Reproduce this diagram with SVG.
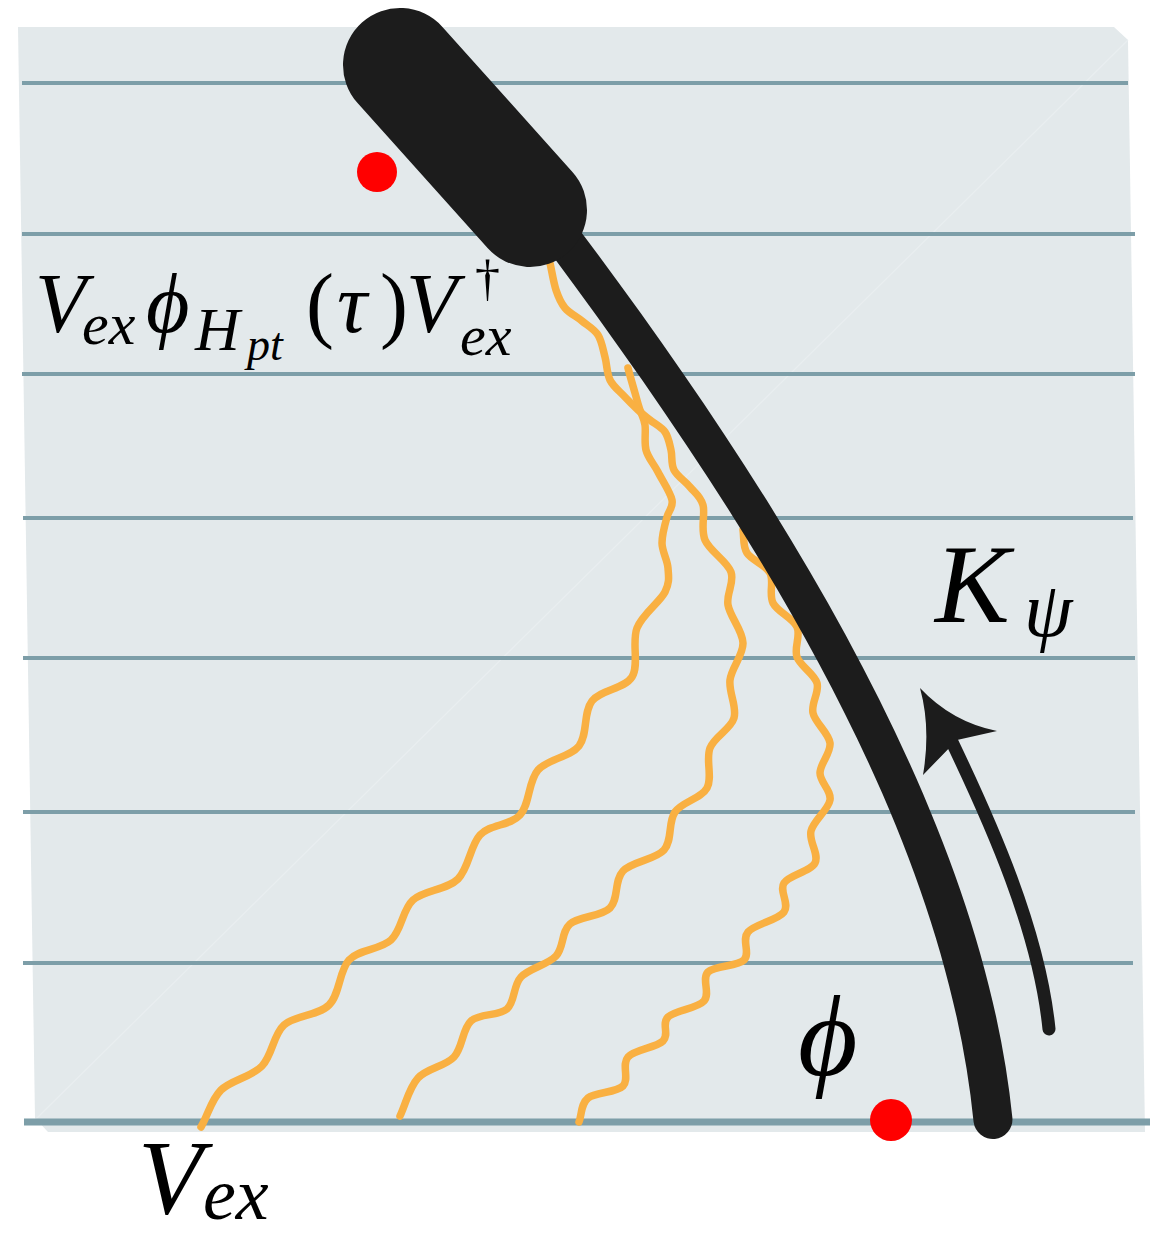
<svg xmlns="http://www.w3.org/2000/svg" width="1163" height="1235" viewBox="0 0 1163 1235">
<style>
.rule{stroke:#7d9ea8;stroke-width:4;fill:none}
.wave{stroke:#f9b042;stroke-width:7.5;fill:none;stroke-linecap:round;stroke-linejoin:round}
.ink{fill:#1c1c1c}
.dot{fill:#ff0000}
.math{font-family:"Liberation Serif","DejaVu Serif",serif;font-style:italic;fill:#000}
.up{font-style:normal}
</style>
<rect width="1163" height="1235" fill="#ffffff"/>
<g id="sheet">
<polygon points="18,27 1114,27 1128,40 1145,1132 48,1132 35,1118" fill="#e3e9eb"/>
<line x1="35" y1="1120" x2="1128" y2="40" stroke="#e9eef0" stroke-width="1.2"/>
</g>
<g id="rules">
<line class="rule" x1="22" y1="83" x2="1128" y2="83"/>
<line class="rule" x1="22" y1="234" x2="1135" y2="234"/>
<line class="rule" x1="22" y1="374" x2="1135" y2="374"/>
<line class="rule" x1="23" y1="518" x2="1133" y2="518"/>
<line class="rule" x1="23" y1="658" x2="1135" y2="658"/>
<line class="rule" x1="23" y1="812" x2="1135" y2="812"/>
<line class="rule" x1="23" y1="963" x2="1133" y2="963"/>
<line class="rule" x1="24" y1="1122" x2="1150" y2="1122" style="stroke-width:7"/>
</g>
<g id="connectors">
<path id="wave-1" class="wave" d="M201,1127 C208,1115 211,1100 221,1090 C231,1080 251.5,1077 262,1066 C272.5,1055 273,1035 284,1025 C295,1015 318,1016 329,1005 C340,994 339,971 349,960 C359,949 380,950 391,940 C402,930 402,910 413,900 C424,890 447,890 458,879 C469,868 470,846 480,835 C490,824 510,826 520,815 C530,804 528,781.5 538,770 C548,758.5 570,757.5 579,746 C588,734.5 583,712.5 592,701 C601,689.5 624.5,689 632,677 C639.5,665 631.5,642 637,628 C642.5,614 660,602 665,592 C670,582 668.5,576 668,568 C667.5,560 662,551.5 662,543 C662,534.5 665,524 667,517 C668.7,510 673.5,507.5 672,500 C670.5,492.5 662,480 658,472 C653.7,463.7 648,458 646,450 C644,442 646,432 645,425 C644,418 641.7,415 640,410 C638,404.7 637,400 635,393 C633,386 630,376 628,368"/>
<path id="wave-2" class="wave" d="M400,1116 C406,1103.3 409,1087.8 418,1078 C427,1068.2 445.2,1066.5 454,1057 C462.8,1047.5 462.2,1029 471,1021 C479.8,1013 498.7,1016.3 507,1009 C515.3,1001.7 512.8,985.8 521,977 C529.2,968.2 547.8,964.8 556,956 C564.2,947.2 561,932 570,924 C579,916 601.2,916.8 610,908 C618.8,899.2 614,880.7 623,871 C632,861.3 655.3,859.8 664,850 C672.7,840.2 667.8,822.3 675,812 C682.2,801.7 701.2,798.7 707,788 C712.8,777.3 705.5,759.7 710,748 C714.5,736.3 730.7,729.3 734,718 C737.3,706.7 728.5,692.5 730,680 C731.5,667.5 743.3,655.5 743,643 C742.7,630.5 730,616.8 728,605 C726,593.2 734.8,582.8 731,572 C727.2,561.2 709.7,551.2 705,540 C700.3,528.8 705.5,513.8 703,505 C700.5,496.2 694.8,492.8 690,487 C685.2,481.2 677.2,476.2 674,470 C670.8,463.8 672.5,456.3 671,450 C669.5,443.7 668.5,437 665,432 C661.5,427 654.5,423.7 650,420 C645.5,416.3 642.3,414 638,410 C633.7,406 628.7,401 624,396 C619.3,391 613.2,386.5 610,380 C606.8,373.5 607,364.5 605,357 C603,349.5 601.8,341 598,335 C594.2,329 587.5,325.5 582,321 C576.5,316.5 569.3,313.2 565,308 C560.7,302.8 558.5,297.5 556,290 C553.5,282.5 552,272 550,263"/>
<path id="wave-3" class="wave" d="M743,530 C744.3,537.7 742.5,545.8 747,553 C751.5,560.2 765.7,564.7 770,573 C774.3,581.3 768.5,594 773,603 C777.5,612 793,618 797,627 C801,636 793.7,647.7 797,657 C800.3,666.3 814.3,673.7 817,683 C819.7,692.3 810.8,703 813,713 C815.2,723 828.8,733 830,743 C831.2,753 820,763.5 820,773 C820,782.5 831.5,790.3 830,800 C828.5,809.7 813.5,820.5 811,831 C808.5,841.5 819.5,854.3 815,863 C810.5,871.7 789.2,874.8 784,883 C778.8,891.2 790,903.8 784,912 C778,920.2 754.7,924 748,932 C741.3,940 750.7,953.3 744,960 C737.3,966.7 714.7,965.2 708,972 C701.3,978.8 710.7,993.5 704,1001 C697.3,1008.5 674.8,1010.3 668,1017 C661.2,1023.7 669.7,1034.3 663,1041 C656.3,1047.7 634.7,1049.5 628,1057 C621.3,1064.5 629.7,1079.2 623,1086 C616.3,1092.8 595.3,1092 588,1098 C580.7,1104 582,1114 579,1122"/>
</g>
<g id="string">
<path class="ink" d="M569.8,216.9 C780.6,496.3 982.4,818.1 1012.4,1118.1 A19.5,19.5 0 0 1 973.6,1121.9 C943.6,821.9 749.4,519.7 540.2,239.1 Z"/>
</g>
<g id="paddle">
<line x1="400" y1="65" x2="530" y2="210" stroke="#1c1c1c" stroke-width="114" stroke-linecap="round"/>
</g>
<g id="arrow-k">
<path d="M1049,1029 C1039,930 990.7,823 952,742" fill="none" stroke="#1c1c1c" stroke-width="13" stroke-linecap="round"/>
<path class="ink" d="M920,688 Q952,722 997,731 L957,740 L923,775 Q931,728 920,688 Z"/>
</g>
<g id="dots">
<circle class="dot" cx="377" cy="172" r="20"/>
<circle class="dot" cx="891" cy="1120" r="21"/>
</g>
<g id="label-operator">
<text class="math"><tspan x="35" y="332" font-size="84">V</tspan><tspan x="82" y="344" font-size="60">ex</tspan><tspan x="146" y="332" font-size="84">ϕ</tspan><tspan x="195" y="350" font-size="62">H</tspan><tspan x="247" y="360" font-size="46">pt</tspan><tspan class="up" x="306" y="332" font-size="84">(</tspan><tspan x="337" y="332" font-size="84">τ</tspan><tspan class="up" x="380" y="332" font-size="84">)</tspan><tspan x="406" y="332" font-size="84">V</tspan><tspan class="up" x="475" y="295" font-size="50">†</tspan><tspan x="460" y="355" font-size="58">ex</tspan></text>
</g>
<g id="label-vex">
<text class="math"><tspan x="138" y="1213" font-size="106">V</tspan><tspan x="203" y="1219" font-size="74">ex</tspan></text>
</g>
<g id="label-kpsi">
<text class="math"><tspan x="935" y="622" font-size="112">K</tspan><tspan x="1024" y="636" font-size="78">ψ</tspan></text>
</g>
<g id="label-phi">
<text class="math" x="798" y="1075" font-size="115">ϕ</text>
</g>
</svg>
